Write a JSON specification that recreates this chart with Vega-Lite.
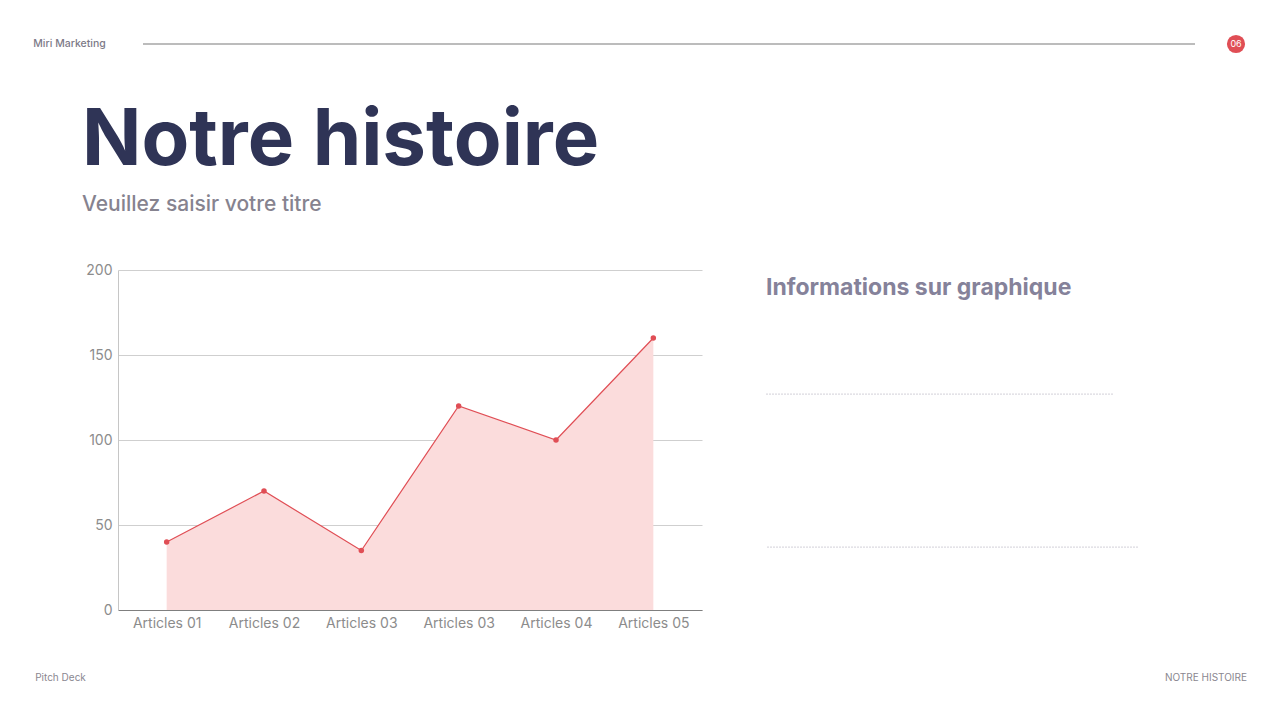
{
  "$schema": "https://vega.github.io/schema/vega-lite/v6.json",
  "background": "white",
  "padding": 0,
  "config": {"view": {"stroke": null}, "font": "Inter"},
  "datasets": {
    "articles": [
      {"article": "Articles 01", "value": 40},
      {"article": "Articles 02", "value": 70},
      {"article": "Articles 03", "value": 35},
      {"article": "Articles 03 ", "value": 120},
      {"article": "Articles 04", "value": 100},
      {"article": "Articles 05", "value": 160}
    ],
    "brand": [{"label": "Miri Marketing"}],
    "page": [{"label": "06"}],
    "deck": [{"label": "Pitch Deck"}],
    "section": [{"label": "NOTRE HISTOIRE"}],
    "blank": [{"label": ""}]
  },
  "bounds": "full",
  "spacing": 15,
  "vconcat": [
    {
      "bounds": "flush",
      "spacing": 4,
      "hconcat": [
        {
          "width": 139, "height": 88,
          "data": {"name": "brand"},
          "mark": {"type": "text", "align": "center", "baseline": "middle", "fontSize": 10.5, "fontWeight": 500, "color": "#7d7a88"},
          "encoding": {"text": {"field": "label"}}
        },
        {
          "width": 1052, "height": 88,
          "data": {"name": "blank"},
          "mark": {"type": "rule", "color": "#7a7a7a", "strokeWidth": 1.2},
          "encoding": {"y": {"datum": "line", "type": "nominal", "axis": null}}
        },
        {
          "width": 74, "height": 88,
          "data": {"name": "page"},
          "layer": [
            {"mark": {"type": "point", "shape": "circle", "filled": true, "size": 330, "color": "#e04e55", "opacity": 1}, "encoding": {}},
            {"mark": {"type": "text", "align": "center", "baseline": "middle", "fontSize": 9, "color": "white"}, "encoding": {"text": {"field": "label"}}}
          ]
        }
      ]
    },
    {
      "bounds": "flush",
      "spacing": 64,
      "hconcat": [
        {
          "width": 54, "height": 340,
          "data": {"name": "blank"},
          "mark": {"type": "text"},
          "encoding": {"text": {"field": "label"}}
        },
        {
          "width": 584, "height": 340,
          "data": {"name": "articles"},
          "title": {
            "text": "Notre histoire",
            "subtitle": "Veuillez saisir votre titre",
            "anchor": "start",
            "frame": "group",
            "dx": -36,
            "offset": 48,
            "fontSize": 78,
            "fontWeight": "bold",
            "color": "#2f3456",
            "subtitleFontSize": 21,
            "subtitleColor": "#86838f",
            "subtitleFontWeight": 500,
            "subtitlePadding": 13
          },
          "encoding": {
            "x": {
              "field": "article", "type": "nominal", "sort": null,
              "scale": {"type": "point", "padding": 0.5},
              "axis": {"title": null, "labelAngle": 0, "labelFontSize": 14, "labelColor": "#8c8c8c", "labelPadding": 6, "ticks": false, "tickSize": 0, "domainColor": "#7f7f7f", "grid": false}
            },
            "y": {
              "field": "value", "type": "quantitative",
              "scale": {"domain": [0, 200]},
              "axis": {"title": null, "values": [0, 50, 100, 150, 200], "labelFontSize": 14, "labelColor": "#8c8c8c", "labelPadding": 6, "ticks": false, "tickSize": 0, "domainColor": "#c6c6c6", "gridColor": "#cfcfcf"}
            }
          },
          "layer": [
            {"mark": {"type": "area", "color": "#fbdcdc", "opacity": 1}},
            {"mark": {"type": "line", "color": "#e04e55", "strokeWidth": 1.2}},
            {"mark": {"type": "point", "filled": true, "size": 30, "color": "#e04e55", "opacity": 1}}
          ]
        },
        {
          "width": 372, "height": 340,
          "data": {"name": "blank"},
          "title": {"text": "Informations sur graphique", "anchor": "start", "frame": "group", "offset": -30, "fontSize": 23, "fontWeight": "bold", "color": "#85829a"},
          "layer": [
            {
              "mark": {"type": "rule", "color": "#d2d0d8", "strokeWidth": 1, "strokeDash": [2, 1]},
              "encoding": {
                "y": {"datum": "first line", "type": "nominal", "scale": {"type": "point", "align": 0.365}, "axis": null},
                "x": {"datum": 0, "type": "quantitative", "scale": {"domain": [0, 1]}, "axis": null},
                "x2": {"datum": 0.933}
              }
            },
            {
              "mark": {"type": "rule", "color": "#d2d0d8", "strokeWidth": 1, "strokeDash": [2, 1]},
              "encoding": {
                "y": {"datum": "second line", "type": "nominal", "scale": {"type": "point", "align": 0.815}, "axis": null}
              }
            }
          ],
          "resolve": {"scale": {"x": "independent", "y": "independent"}}
        }
      ]
    },
    {
      "bounds": "flush",
      "spacing": 1106,
      "hconcat": [
        {
          "width": 121, "height": 66,
          "data": {"name": "deck"},
          "mark": {"type": "text", "align": "center", "baseline": "middle", "fontSize": 10, "color": "#8a8790"},
          "encoding": {"text": {"field": "label"}}
        },
        {
          "width": 40, "height": 66,
          "data": {"name": "section"},
          "mark": {"type": "text", "align": "right", "baseline": "middle", "fontSize": 10, "color": "#8a8790", "letterSpacing": 0.3},
          "encoding": {"text": {"field": "label"}}
        }
      ]
    }
  ]
}
